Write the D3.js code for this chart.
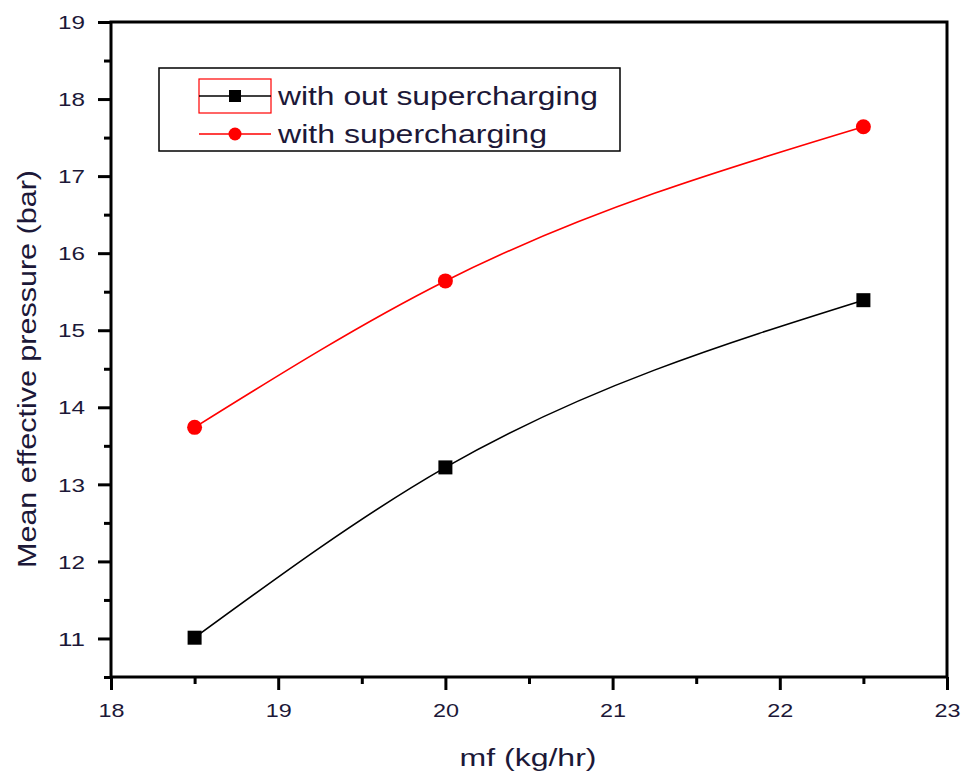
<!DOCTYPE html>
<html><head><meta charset="utf-8">
<script src="https://cdn.jsdelivr.net/npm/d3@7"></script>
<style>body{margin:0;background:#fff}</style>
</head><body>
<svg id="c" width="961" height="771"></svg>
<script>
const xValues = [18.5, 20, 22.5];
const withoutSC = [11.01, 13.22, 15.39];
const withSC = [13.74, 15.64, 17.64];
const xTicks = [18, 19, 20, 21, 22, 23];
const yTicks = [11, 12, 13, 14, 15, 16, 17, 18, 19];
const seriesNames = ["with out supercharging", "with supercharging"];

const svg = d3.select("#c");
const L = 111, R = 947, T = 22, B = 677;
const x = d3.scaleLinear().domain([18, 23]).range([L, R]);
const y = d3.scaleLinear().domain([10.5, 19]).range([B, T]);
const txt = "#1c1838";
const FF = "Liberation Sans, Arial, sans-serif";

// frame
svg.append("rect").attr("x", L).attr("y", T).attr("width", R - L).attr("height", B - T)
  .attr("fill", "none").attr("stroke", "#000").attr("stroke-width", 3);

// x axis
const xa = svg.append("g").attr("transform", `translate(0,${B})`)
  .call(d3.axisBottom(x).tickValues(xTicks).tickSize(13).tickFormat(d3.format("d")));
xa.select(".domain").remove();
xa.selectAll(".tick line").attr("stroke-width", 3);
xa.selectAll("text").attr("font-family", FF).attr("font-size", 19).attr("fill", txt)
  .attr("y", 33).attr("dy", "0.35em")
  .attr("textLength", 26).attr("lengthAdjust", "spacingAndGlyphs");
const xm = svg.append("g").attr("transform", `translate(0,${B})`)
  .call(d3.axisBottom(x).tickValues(d3.range(18.5, 23, 1)).tickSize(7).tickFormat(""));
xm.select(".domain").remove();
xm.selectAll(".tick line").attr("stroke-width", 3);

// y axis
const ya = svg.append("g").attr("transform", `translate(${L},0)`)
  .call(d3.axisLeft(y).tickValues(yTicks).tickSize(13).tickFormat(d3.format("d")));
ya.select(".domain").remove();
ya.selectAll(".tick line").attr("stroke-width", 3);
ya.selectAll("text").attr("font-family", FF).attr("font-size", 19).attr("fill", txt)
  .attr("x", -26).attr("dy", "0.35em")
  .attr("textLength", 27).attr("lengthAdjust", "spacingAndGlyphs");
const ym = svg.append("g").attr("transform", `translate(${L},0)`)
  .call(d3.axisLeft(y).tickValues(d3.range(10.5, 19, 1)).tickSize(7).tickFormat(""));
ym.select(".domain").remove();
ym.selectAll(".tick line").attr("stroke-width", 3);

// titles
svg.append("text").attr("x", 528).attr("y", 766).attr("text-anchor", "middle")
  .attr("font-family", FF).attr("font-size", 23).attr("fill", txt)
  .attr("textLength", 137).attr("lengthAdjust", "spacingAndGlyphs")
  .text("mf (kg/hr)");
svg.append("text").attr("transform", `translate(36,369) rotate(-90)`).attr("text-anchor", "middle")
  .attr("font-family", FF).attr("font-size", 26).attr("fill", txt)
  .attr("textLength", 398).attr("lengthAdjust", "spacingAndGlyphs")
  .text("Mean effective pressure (bar)");

const line = d3.line().x(d => x(d[0])).y(d => y(d[1])).curve(d3.curveMonotoneX);
const s1 = xValues.map((v, i) => [v, withoutSC[i]]);
const s2 = xValues.map((v, i) => [v, withSC[i]]);

svg.append("path").attr("d", line(s1)).attr("fill", "none").attr("stroke", "#000").attr("stroke-width", 1.6);
svg.append("path").attr("d", line(s2)).attr("fill", "none").attr("stroke", "#f00").attr("stroke-width", 1.6);

svg.selectAll(".sq").data(s1).enter().append("rect")
  .attr("x", d => x(d[0]) - 7).attr("y", d => y(d[1]) - 7).attr("width", 14).attr("height", 14).attr("fill", "#000");
svg.selectAll(".ci").data(s2).enter().append("circle")
  .attr("cx", d => x(d[0])).attr("cy", d => y(d[1])).attr("r", 7.5).attr("fill", "#f00");

// legend
const lg = svg.append("g");
lg.append("rect").attr("x", 159).attr("y", 68).attr("width", 461).attr("height", 83)
  .attr("fill", "#fff").attr("stroke", "#000").attr("stroke-width", 1.5);
lg.append("rect").attr("x", 199).attr("y", 79).attr("width", 72).attr("height", 34)
  .attr("fill", "none").attr("stroke", "#f00").attr("stroke-width", 1.2);
lg.append("line").attr("x1", 199).attr("x2", 271).attr("y1", 96).attr("y2", 96).attr("stroke", "#000").attr("stroke-width", 1.6);
lg.append("rect").attr("x", 229).attr("y", 90).attr("width", 12).attr("height", 12).attr("fill", "#000");
lg.append("line").attr("x1", 199).attr("x2", 271).attr("y1", 134).attr("y2", 134).attr("stroke", "#f00").attr("stroke-width", 1.6);
lg.append("circle").attr("cx", 235).attr("cy", 134).attr("r", 6.5).attr("fill", "#f00");
const lens = [320, 269];
lg.selectAll(".lt").data(seriesNames).enter().append("text")
  .attr("x", 278).attr("y", (d, i) => 96 + i * 38).attr("dy", "0.35em")
  .attr("font-family", FF).attr("font-size", 26).attr("fill", txt)
  .attr("textLength", (d, i) => lens[i]).attr("lengthAdjust", "spacingAndGlyphs")
  .text(d => d);
</script>
</body></html>
